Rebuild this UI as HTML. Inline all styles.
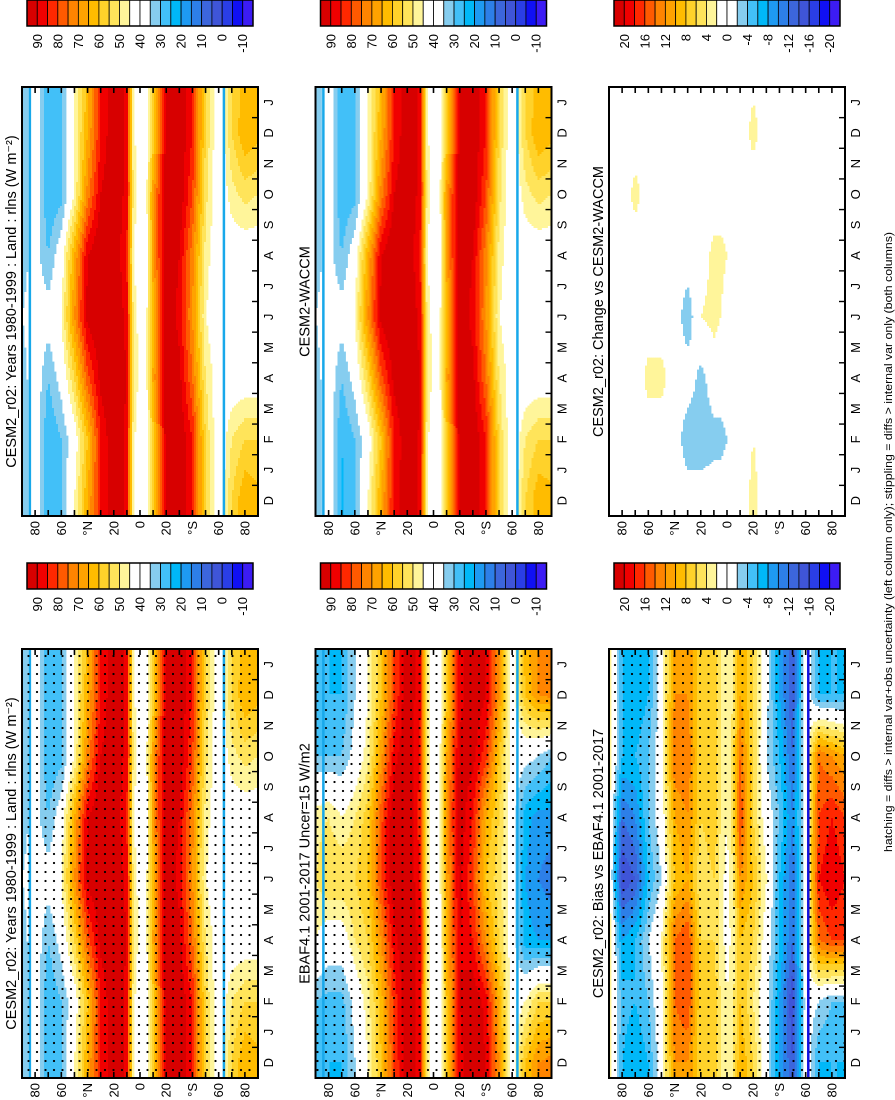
<!DOCTYPE html>
<html><head><meta charset="utf-8"><style>
html,body{margin:0;padding:0;background:#fff;}
svg{display:block;font-family:"Liberation Sans",Arial,sans-serif;}
</style></head><body>
<svg id="fig" width="895" height="1100" viewBox="0 0 895 1100">
<defs>
<pattern id="stip" width="9" height="8.5" patternUnits="userSpaceOnUse"><circle cx="3" cy="3" r="1.1" fill="#000"/></pattern>
</defs>
<g id="root" transform="translate(0,1100) rotate(-90)"></g>
</svg>
<script>
// ---- data ----
const months = ['D','J','F','M','A','M','J','J','A','S','O','N','D','J'];
const lats = [90,80,70,60,50,40,30,20,10,5,0,-5,-10,-20,-30,-40,-50,-60,-70,-80,-90];
const sampleMonths = [0,2,4,6,8,10,12,13];
const absTicks = ['90','80','70','60','50','40','30','20','10','0','-10'];
const biasTicks = ['20','16','12','8','4','0','-4','-8','-12','-16','-20'];
const modelVals = [
 [30,40,25,30,45,65,85,95,88,46,40,42,56,92,95,85,55,38,55,65,62],
 [30,40,25,30,40,60,85,95,88,46,40,42,58,93,95,85,55,38,50,55,55],
 [32,40,30,38,55,78,92,95,90,50,42,44,66,95,92,75,50,40,40,40,40],
 [35,40,38,45,70,92,96,96,88,48,42,44,62,95,88,70,45,38,40,40,40],
 [32,38,30,40,65,90,96,96,84,45,38,42,68,95,90,72,48,38,40,40,40],
 [30,40,25,28,45,72,90,95,88,48,42,44,68,95,95,80,52,38,48,52,50],
 [30,40,25,30,45,65,85,95,88,46,40,42,56,92,95,85,55,38,55,65,62],
 [30,40,25,30,45,63,85,95,88,46,40,42,58,92,95,85,55,38,55,63,60]
];
const waccmVals = [
 [30,40,24,30,45,65,86,95,88,46,40,42,57,92,95,85,55,38,55,64,62],
 [30,40,25,30,40,60,85,95,89,46,40,42,58,93,95,85,55,38,50,55,55],
 [32,40,30,38,55,78,92,95,90,50,42,44,66,95,92,75,50,40,40,40,40],
 [35,40,38,45,70,92,96,96,88,48,42,44,62,95,88,70,45,38,40,40,40],
 [32,38,30,40,65,90,96,96,84,45,38,42,68,95,90,72,48,38,40,40,40],
 [30,40,25,28,45,72,90,95,88,48,42,44,68,95,95,80,52,38,48,52,50],
 [30,40,25,30,45,65,85,95,88,46,40,42,56,92,95,85,55,38,55,65,62],
 [30,40,25,30,45,63,85,95,88,46,40,42,58,92,95,85,55,38,55,63,60]
];
const ebafVals = [
 [28,25,25,35,45,60,80,95,86,50,38,42,58,88,95,90,70,40,60,70,72],
 [30,28,28,38,48,62,82,95,86,50,38,42,60,90,95,88,65,40,45,55,55],
 [45,40,40,50,55,70,88,96,88,52,38,42,64,90,85,70,55,40,22,20,20],
 [50,55,55,55,60,80,95,96,85,50,36,44,66,92,80,60,52,40,20,15,12],
 [48,50,45,50,58,78,95,96,82,48,38,46,70,94,85,65,55,40,22,18,18],
 [30,30,30,38,48,68,88,95,85,50,40,44,66,92,92,82,60,40,38,35,30],
 [28,25,25,35,45,60,80,95,86,50,38,42,58,88,95,90,70,40,60,70,72],
 [28,25,25,35,45,60,80,95,86,50,38,42,58,88,95,90,70,40,62,70,72]
];
const biasVals = [
 [4,-6,-8,-6,0,12,12,6,8,4,2,4,10,6,-1,-8,-14,0,-6,-6,-6],
 [4,-5,-6,-4,1,14,16,6,8,4,2,4,8,4,-1,-8,-16,0,-2,-4,-4],
 [4,-8,-6,-2,2,14,16,6,6,3,1,3,8,6,0,-6,-12,0,14,16,16],
 [2,-16,-14,-6,-2,8,10,4,6,3,1,4,12,8,2,-6,-12,0,18,20,18],
 [2,-12,-10,-4,0,10,12,6,8,4,2,6,16,6,0,-4,-10,0,16,18,16],
 [4,-6,-6,-4,0,14,14,6,8,4,2,6,14,6,-2,-6,-12,0,14,12,10],
 [4,-6,-8,-6,0,12,12,6,8,4,2,4,10,6,-1,-8,-14,0,-6,-6,-6],
 [4,-6,-8,-6,0,12,12,6,8,4,2,4,10,6,-1,-8,-14,0,-6,-6,-6]
];
const changeVals = [
 [0,0,0,0,0,0,0,0,0,0,0,0,0,3,0,0,0,0,0,0,0],
 [0,0,0,0,0,0,-4,-4,-3,-3,-2,-1,0,2,0,0,0,0,0,0,0],
 [0,0,0,3,3,0,0,-3,0,0,0,0,0,0,0,0,0,0,0,0,0],
 [0,0,0,0,0,0,-4,2,3,2,0,0,0,0,0,0,0,0,0,0,0],
 [0,0,0,0,0,0,0,0,3,3,2,0,0,2,0,0,0,0,0,0,0],
 [0,0,3,0,0,0,0,0,0,0,0,0,0,0,0,0,0,0,0,0,0],
 [0,0,0,0,0,0,0,0,0,0,0,0,0,3,0,0,2,0,0,0,0],
 [0,0,0,0,0,0,0,0,0,0,0,0,0,2,0,0,0,0,0,0,0]
];
// ---- styling ----
const palette = ['#d70000','#f00000','#ff2800','#ff5a00','#ff8400','#ffa200','#ffbc00','#ffd22a','#ffe45a','#fff59a','#ffffff','#ffffff','#86cdef','#42c0f8','#00b8f8','#1e9af2','#2d7fe8','#3c66dc','#3f55d8','#2a3ee6','#1010f4','#3c1cf4'];
const absBounds = []; for (let k=0;k<21;k++) absBounds.push(90-5*k);
const biasBounds = []; for (let k=0;k<21;k++) biasBounds.push(20-2*k);
const NS='http://www.w3.org/2000/svg';
const root = document.getElementById('root');
function mk(tag, attrs, parent){const e=document.createElementNS(NS,tag);for(const k in attrs)e.setAttribute(k,attrs[k]);(parent||root).appendChild(e);return e;}
function colorFor(v,bounds){let i=0;for(const b of bounds){if(v<=b)i++;}return palette[i];}
function interp(grid,t,lat){
  t=Math.max(0,Math.min(13,t));
  let s=0; while(s<sampleMonths.length-2 && t>sampleMonths[s+1]) s++;
  const ft=(t-sampleMonths[s])/(sampleMonths[s+1]-sampleMonths[s]);
  let li=0; while(li<lats.length-2 && lat<lats[li+1]) li++;
  const fl=(lats[li]-lat)/(lats[li]-lats[li+1]);
  const a=grid[s][li]*(1-fl)+grid[s][li+1]*fl;
  const b=grid[s+1][li]*(1-fl)+grid[s+1][li+1]*fl;
  return a*(1-ft)+b*ft;
}
const PW=429, PH=236;
function xOfMonth(x0,i){return x0+i*PW/14;}
function yOfLat(y0,lat){return y0+(90-lat)/180*PH;}

function panel(x0,y0,grid,bounds,title,name,opts){
  const g=mk('g',{});
  
  
  const step=2;
  for(let yy=0;yy<PH;yy+=step){
    const lat=90-(yy+step/2)/PH*180;
    let runStart=0, runCol=null;
    for(let xx=0;;xx+=step){
      const end = xx>=PW;
      let col=null;
      if(!end){const t=(xx+step/2)/PW*14-0.5; col=colorFor(interp(grid,t,lat),bounds);}
      if(end || col!==runCol){
        if(runCol!==null && runCol!=='#ffffff'){
          const r=mk('rect',{x:x0+runStart,y:y0+yy,width:Math.min(xx,PW)-runStart+0.4,height:Math.min(step+0.4,PH-yy),fill:runCol},g);
          
          
        }
        runStart=xx; runCol=col;
      }
      if(end) break;
    }
  }
  if(opts.lines){for(const L of opts.lines){
    const l=mk('line',{x1:x0,x2:x0+PW,y1:yOfLat(y0,L[0]),y2:yOfLat(y0,L[0]),stroke:L[1],'stroke-width':2.5},g);
    
    
  }}
  if(opts.stipple){
    const s=mk('rect',{x:x0,y:y0,width:PW,height:PH,fill:'url(#stip)'},g);
    
    
  }
  const fr=mk('rect',{x:x0,y:y0,width:PW,height:PH,fill:'none',stroke:'#000','stroke-width':2},g);
  
  
  for(let lat=-80;lat<=80;lat+=10){
    const y=yOfLat(y0,lat);
    mk('line',{x1:x0,x2:x0+6,y1:y,y2:y,stroke:'#000','stroke-width':1.6},g);
    mk('line',{x1:x0+PW-6,x2:x0+PW,y1:y,y2:y,stroke:'#000','stroke-width':1.6},g);
  }
  const latLabels=[[80,'80'],[60,'60'],[40,'°N'],[20,'20'],[0,'0'],[-20,'20'],[-40,'°S'],[-60,'60'],[-80,'80']];
  for(const L of latLabels){
    const t=mk('text',{x:x0-5,y:yOfLat(y0,L[0])+4.5,'font-size':13,'text-anchor':'end',fill:'#000'},g);
    t.textContent=L[1];
    
    
  }
  for(let i=1;i<14;i++){
    const x=xOfMonth(x0,i);
    mk('line',{x1:x,x2:x,y1:y0+PH-6,y2:y0+PH,stroke:'#000','stroke-width':1.4},g);
  }
  for(let i=0;i<14;i++){
    const t=mk('text',{x:xOfMonth(x0,i+0.5),y:y0+PH+15,'font-size':13,'text-anchor':'middle',fill:'#000'},g);
    t.textContent=months[i];
    
    
  }
  const tt=mk('text',{x:x0+PW/2,y:y0-6,'font-size':14.5,'text-anchor':'middle',fill:'#000'},g);
  tt.textContent=title;
  
  
}
function colorbar(x0,y0,ticks,name,labelRight){
  const g=mk('g',{});
  
  
  const h=226/22;
  for(let i=0;i<22;i++){
    const r=mk('rect',{x:x0,y:y0+i*h,width:26,height:h,fill:palette[i],stroke:'#000','stroke-width':0.8},g);
    
    
  }
  mk('rect',{x:x0,y:y0,width:26,height:226,fill:'none',stroke:'#000','stroke-width':1.5},g);
  for(let k=0;k<ticks.length;k++){
    const t=mk('text',{x:labelRight,y:y0+(2*k+1)*h+4.5,'font-size':13,'text-anchor':'end',fill:'#000'},g);
    t.textContent=ticks[k];
    
    
  }
}
const rows=[22,315.5,609];
const titleModel='CESM2_r02: Years 1980-1999 : Land : rlns (W m\u207B\u00B2)';
const absLines=[[84,'#18a8ea'],[-64,'#18a8ea']];
panel(22,rows[0],modelVals,absBounds,titleModel,'panel-model-left',{lines:absLines,stipple:true});
panel(22,rows[1],ebafVals,absBounds,'EBAF4.1 2001-2017 Uncer=15 W/m2','panel-ebaf',{lines:absLines,stipple:true});
panel(22,rows[2],biasVals,biasBounds,'CESM2_r02: Bias vs EBAF4.1 2001-2017','panel-bias',{lines:[[-62,'#1010e0']],stipple:true});
panel(584,rows[0],modelVals,absBounds,titleModel,'panel-model-right',{lines:absLines});
panel(584,rows[1],waccmVals,absBounds,'CESM2-WACCM','panel-waccm',{lines:absLines});
panel(584,rows[2],changeVals,biasBounds,'CESM2_r02: Change vs CESM2-WACCM','panel-change',{lines:[]});
colorbar(511,rows[0]+5,absTicks,'colorbar-model-left',503);
colorbar(511,rows[1]+5,absTicks,'colorbar-ebaf',503);
colorbar(511,rows[2]+5,biasTicks,'colorbar-bias',503);
colorbar(1074,rows[0]+5,absTicks,'colorbar-model-right',1066);
colorbar(1074,rows[1]+5,absTicks,'colorbar-waccm',1066);
colorbar(1074,rows[2]+5,biasTicks,'colorbar-change',1066);
const foot=mk('text',{x:558,y:892,'font-size':11,'text-anchor':'middle',fill:'#000',textLength:620,lengthAdjust:'spacingAndGlyphs'});
foot.textContent='hatching = diffs > internal var+obs uncertainty (left column only); stippling = diffs > internal var only (both columns)';


</script>
</body></html>
